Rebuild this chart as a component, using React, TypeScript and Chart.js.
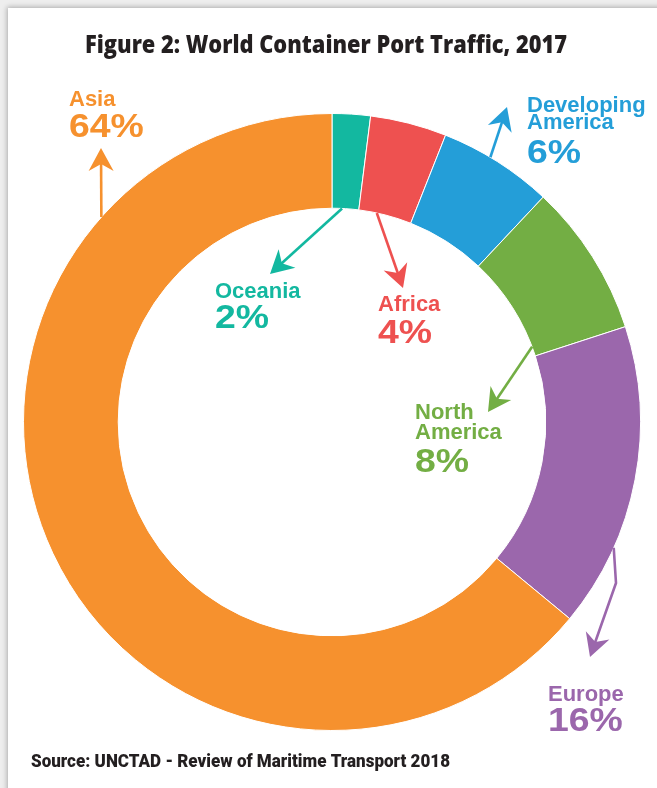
import React, { useEffect, useRef } from "react";
import { Chart, registerables } from "chart.js";

Chart.register(...registerables);

// ---- data ----
const regions = ["Oceania", "Africa", "Developing America", "North America", "Europe", "Asia"];
const shares = [2, 4, 6, 8, 16, 64];
const sliceColors = ["#13B8A0", "#EE5150", "#249ED8", "#73AE44", "#9B67AC", "#F6912E"];
const nameLines = [["Oceania"], ["Africa"], ["Developing", "America"], ["North", "America"], ["Europe"], ["Asia"]];

const TITLE = "Figure 2: World Container Port Traffic, 2017";
const SOURCE = "Source: UNCTAD - Review of Maritime Transport 2018";

// ---- callout layout (offsets from doughnut centre, px) ----
type Callout = {
  at: number; // fraction along the slice
  edge: "inner" | "outer";
  path: number[][];
  x: number;
  lines: number[];
  pct: number;
};
const callouts: Callout[] = [
  { at: 0.375, edge: "inner", path: [[-62, -148]], x: -117, lines: [-124], pct: -94 },
  { at: 0.34, edge: "inner", path: [[71, -134]], x: 46, lines: [-111], pct: -79 },
  { at: 0.43, edge: "outer", path: [[175, -315]], x: 195, lines: [-310, -293], pct: -259 },
  { at: 0.91, edge: "inner", path: [[156, -10]], x: 83, lines: [-3, 17], pct: 50 },
  { at: 0.73, edge: "outer", path: [[284, 161], [258, 235]], x: 216, lines: [279], pct: 309 },
  { at: 0.79, edge: "outer", path: [[-231, -274]], x: -263, lines: [-316], pct: -285 },
];

function arrowHead(ctx: CanvasRenderingContext2D, x0: number, y0: number, x1: number, y1: number) {
  const len = 23, half = 12.5, notch = 7;
  const a = Math.atan2(y1 - y0, x1 - x0);
  const dx = Math.cos(a), dy = Math.sin(a);
  const px = -dy, py = dx;
  ctx.beginPath();
  ctx.moveTo(x1, y1);
  ctx.lineTo(x1 - len * dx + half * px, y1 - len * dy + half * py);
  ctx.lineTo(x1 - (len - notch) * dx, y1 - (len - notch) * dy);
  ctx.lineTo(x1 - len * dx - half * px, y1 - len * dy - half * py);
  ctx.closePath();
  ctx.fill();
}

function fitText(ctx: CanvasRenderingContext2D, text: string, x: number, y: number, width: number) {
  const w = ctx.measureText(text).width;
  ctx.save();
  ctx.translate(x, y);
  ctx.scale(width / w, 1);
  ctx.fillText(text, 0, 0);
  ctx.restore();
}

const calloutPlugin = {
  id: "callouts",
  afterDraw(chart: any) {
    const ctx: CanvasRenderingContext2D = chart.ctx;
    const meta = chart.getDatasetMeta(0);
    const first = meta.data[0];
    const cx = first.x, cy = first.y;
    ctx.save();
    ctx.textBaseline = "alphabetic";
    ctx.textAlign = "left";

    // title & source
    ctx.fillStyle = "#231F20";
    ctx.font = '800 24px "Open Sans"';
    fitText(ctx, TITLE, 85, 52.5, 482);
    ctx.font = '900 19px Roboto';
    fitText(ctx, SOURCE, 31, 767, 419);

    callouts.forEach((c, i) => {
      const arc = meta.data[i];
      const color = sliceColors[i];
      const ang = arc.startAngle + (arc.endAngle - arc.startAngle) * c.at;
      const r = c.edge === "inner" ? arc.innerRadius : arc.outerRadius;
      const pts = [[cx + r * Math.cos(ang), cy + r * Math.sin(ang)], ...c.path.map(([dx, dy]) => [cx + dx, cy + dy])];
      ctx.strokeStyle = color;
      ctx.fillStyle = color;
      ctx.lineWidth = 2.6;
      ctx.beginPath();
      ctx.moveTo(pts[0][0], pts[0][1]);
      for (let k = 1; k < pts.length - 1; k++) ctx.lineTo(pts[k][0], pts[k][1]);
      const p0 = pts[pts.length - 2], p1 = pts[pts.length - 1];
      const a = Math.atan2(p1[1] - p0[1], p1[0] - p0[0]);
      ctx.lineTo(p1[0] - 14 * Math.cos(a), p1[1] - 14 * Math.sin(a));
      ctx.stroke();
      arrowHead(ctx, p0[0], p0[1], p1[0], p1[1]);

      ctx.font = 'bold 22px "Liberation Sans", Arial, sans-serif';
      nameLines[i].forEach((t, k) => ctx.fillText(t, cx + c.x, cy + c.lines[k]));
      ctx.font = 'bold 34px "Liberation Sans", Arial, sans-serif';
      ctx.save();
      ctx.translate(cx + c.x, cy + c.pct);
      ctx.scale(1.1, 1);
      ctx.fillText(`${shares[i]}%`, 0, 0);
      ctx.restore();
    });
    ctx.restore();
  },
};

export default function App() {
  const ref = useRef<HTMLCanvasElement | null>(null);
  useEffect(() => {
    if (!ref.current) return;
    const chart = new Chart(ref.current, {
      type: "doughnut",
      data: {
        labels: regions,
        datasets: [
          {
            data: shares,
            backgroundColor: sliceColors,
            borderColor: "#ffffff",
            borderWidth: 1,
          },
        ],
      },
      options: {
        responsive: false,
        animation: false,
        devicePixelRatio: 1,
        cutout: "69.3%",
        layout: { padding: { left: 23, top: 113, right: 16, bottom: 57 } },
        plugins: {
          legend: { display: false },
          tooltip: { enabled: false },
          title: { display: false },
        },
      },
      plugins: [calloutPlugin],
    });
    return () => chart.destroy();
  }, []);

  return (
    <div style={{ position: "fixed", inset: 0, background: "#eeeeee", overflow: "hidden" }}>
      <div
        style={{
          position: "absolute",
          left: 8,
          top: 8,
          right: -10,
          bottom: -10,
          background: "#ffffff",
          boxShadow: "0 0 5px 1px rgba(0,0,0,0.28)",
        }}
      />
      <canvas ref={ref} width={657} height={788} style={{ position: "absolute", left: 0, top: 0, width: 657, height: 788 }} />
    </div>
  );
}
